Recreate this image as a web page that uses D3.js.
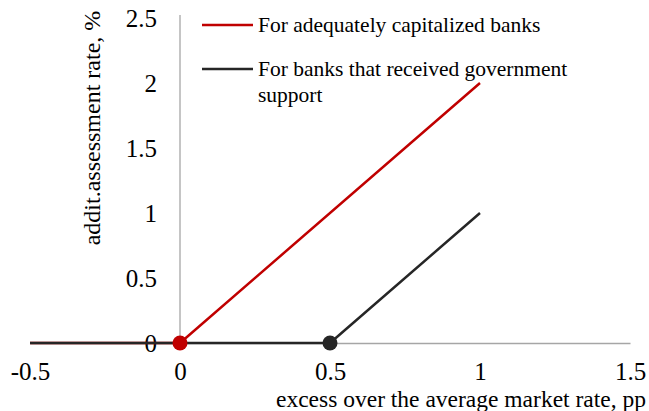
<!DOCTYPE html>
<html>
<head>
<meta charset="utf-8">
<script src="https://cdn.jsdelivr.net/npm/d3@7"></script>
<style>
  html, body { margin: 0; padding: 0; background: #fff; overflow: hidden; }
  svg { display: block; }
  text { font-family: "Liberation Serif", "Times New Roman", serif; fill: #000; }
</style>
</head>
<body>
<svg id="chart" width="649" height="411"></svg>
<script>
// Rate schedule: excess over the average market rate (pp) -> additional assessment rate (%)
const excessPoints = [-0.5, 0, 1];
const adequateRates = [0, 0, 2];
const supportedExcess = [-0.5, 0.5, 1];
const supportedRates = [0, 0, 1];

// Threshold markers where each schedule starts rising
const thresholdExcess = [0, 0.5];
const thresholdRates = [0, 0];

const xTicks = [-0.5, 0, 0.5, 1, 1.5];
const yTicks = [0, 0.5, 1, 1.5, 2, 2.5];
const seriesNames = ["For adequately capitalized banks", "For banks that received government support"];
const seriesColors = ["#c00000", "#262626"];

const FONT = "Liberation Serif, Times New Roman, serif";
const fmt = d => String(d); // plain hyphen for negatives

const svg = d3.select("#chart");

const x = d3.scaleLinear().domain([-0.5, 1.5]).range([30, 630]);
const y = d3.scaleLinear().domain([0, 2.5]).range([343, 18]);

// Axes crossing at the origin
const xAxis = d3.axisBottom(x).tickValues(xTicks).tickSize(0).tickFormat(fmt);
const yAxis = d3.axisLeft(y).tickValues(yTicks).tickSize(0).tickFormat(fmt);

const gx = svg.append("g").attr("transform", `translate(0,${y(0)})`).call(xAxis)
  .attr("font-family", FONT).attr("font-size", 25);
gx.select(".domain").attr("stroke", "#a6a6a6").attr("stroke-width", 1.3);
gx.selectAll("text")
  .attr("fill", "#000")
  .attr("y", 37)
  .attr("dy", null);

const gy = svg.append("g").attr("transform", `translate(${x(0)},0)`).call(yAxis)
  .attr("font-family", FONT).attr("font-size", 25);
gy.select(".domain").attr("stroke", "#a6a6a6").attr("stroke-width", 1.3)
  .attr("d", `M0,${y(2.5) - 3}V${y(0)}`);
gy.selectAll("text")
  .attr("fill", "#000")
  .attr("x", -23)
  .attr("dy", "0.32em");

// Axis titles
svg.append("text")
  .attr("transform", "translate(100,128) rotate(-90)")
  .attr("text-anchor", "middle")
  .attr("font-family", FONT)
  .attr("font-size", 24)
  .text("addit.assessment rate, %");

svg.append("text")
  .attr("x", 276)
  .attr("y", 406.5)
  .attr("font-family", FONT)
  .attr("font-size", 23.5)
  .text("excess over the average market rate, pp");

// Series lines
const line = d3.line().x(d => x(d[0])).y(d => y(d[1]));
const seriesData = [
  d3.zip(excessPoints, adequateRates),
  d3.zip(supportedExcess, supportedRates)
];
svg.append("g").selectAll("path")
  .data(seriesData)
  .join("path")
  .attr("d", line)
  .attr("fill", "none")
  .attr("stroke", (d, i) => seriesColors[i])
  .attr("stroke-width", 2.5)
  .attr("stroke-linejoin", "round");

// Threshold markers
svg.append("g").selectAll("circle")
  .data(d3.zip(thresholdExcess, thresholdRates))
  .join("circle")
  .attr("cx", d => x(d[0]))
  .attr("cy", d => y(d[1]))
  .attr("r", 7.5)
  .attr("fill", (d, i) => seriesColors[i]);

// Legend
const legend = svg.append("g");
const legendRows = [
  { lines: [seriesNames[0]], ly: 25 },
  { lines: ["For banks that received government", "support"], ly: 69 }
];
legendRows.forEach((row, i) => {
  legend.append("line")
    .attr("x1", 202).attr("x2", 253)
    .attr("y1", row.ly).attr("y2", row.ly)
    .attr("stroke", seriesColors[i]).attr("stroke-width", 2.5);
  const t = legend.append("text")
    .attr("x", 258)
    .attr("y", row.ly + 7)
    .attr("font-family", FONT)
    .attr("font-size", 21.5);
  row.lines.forEach((s, k) => {
    t.append("tspan").attr("x", 258).attr("dy", k === 0 ? 0 : 26).text(s);
  });
});
</script>
</body>
</html>
